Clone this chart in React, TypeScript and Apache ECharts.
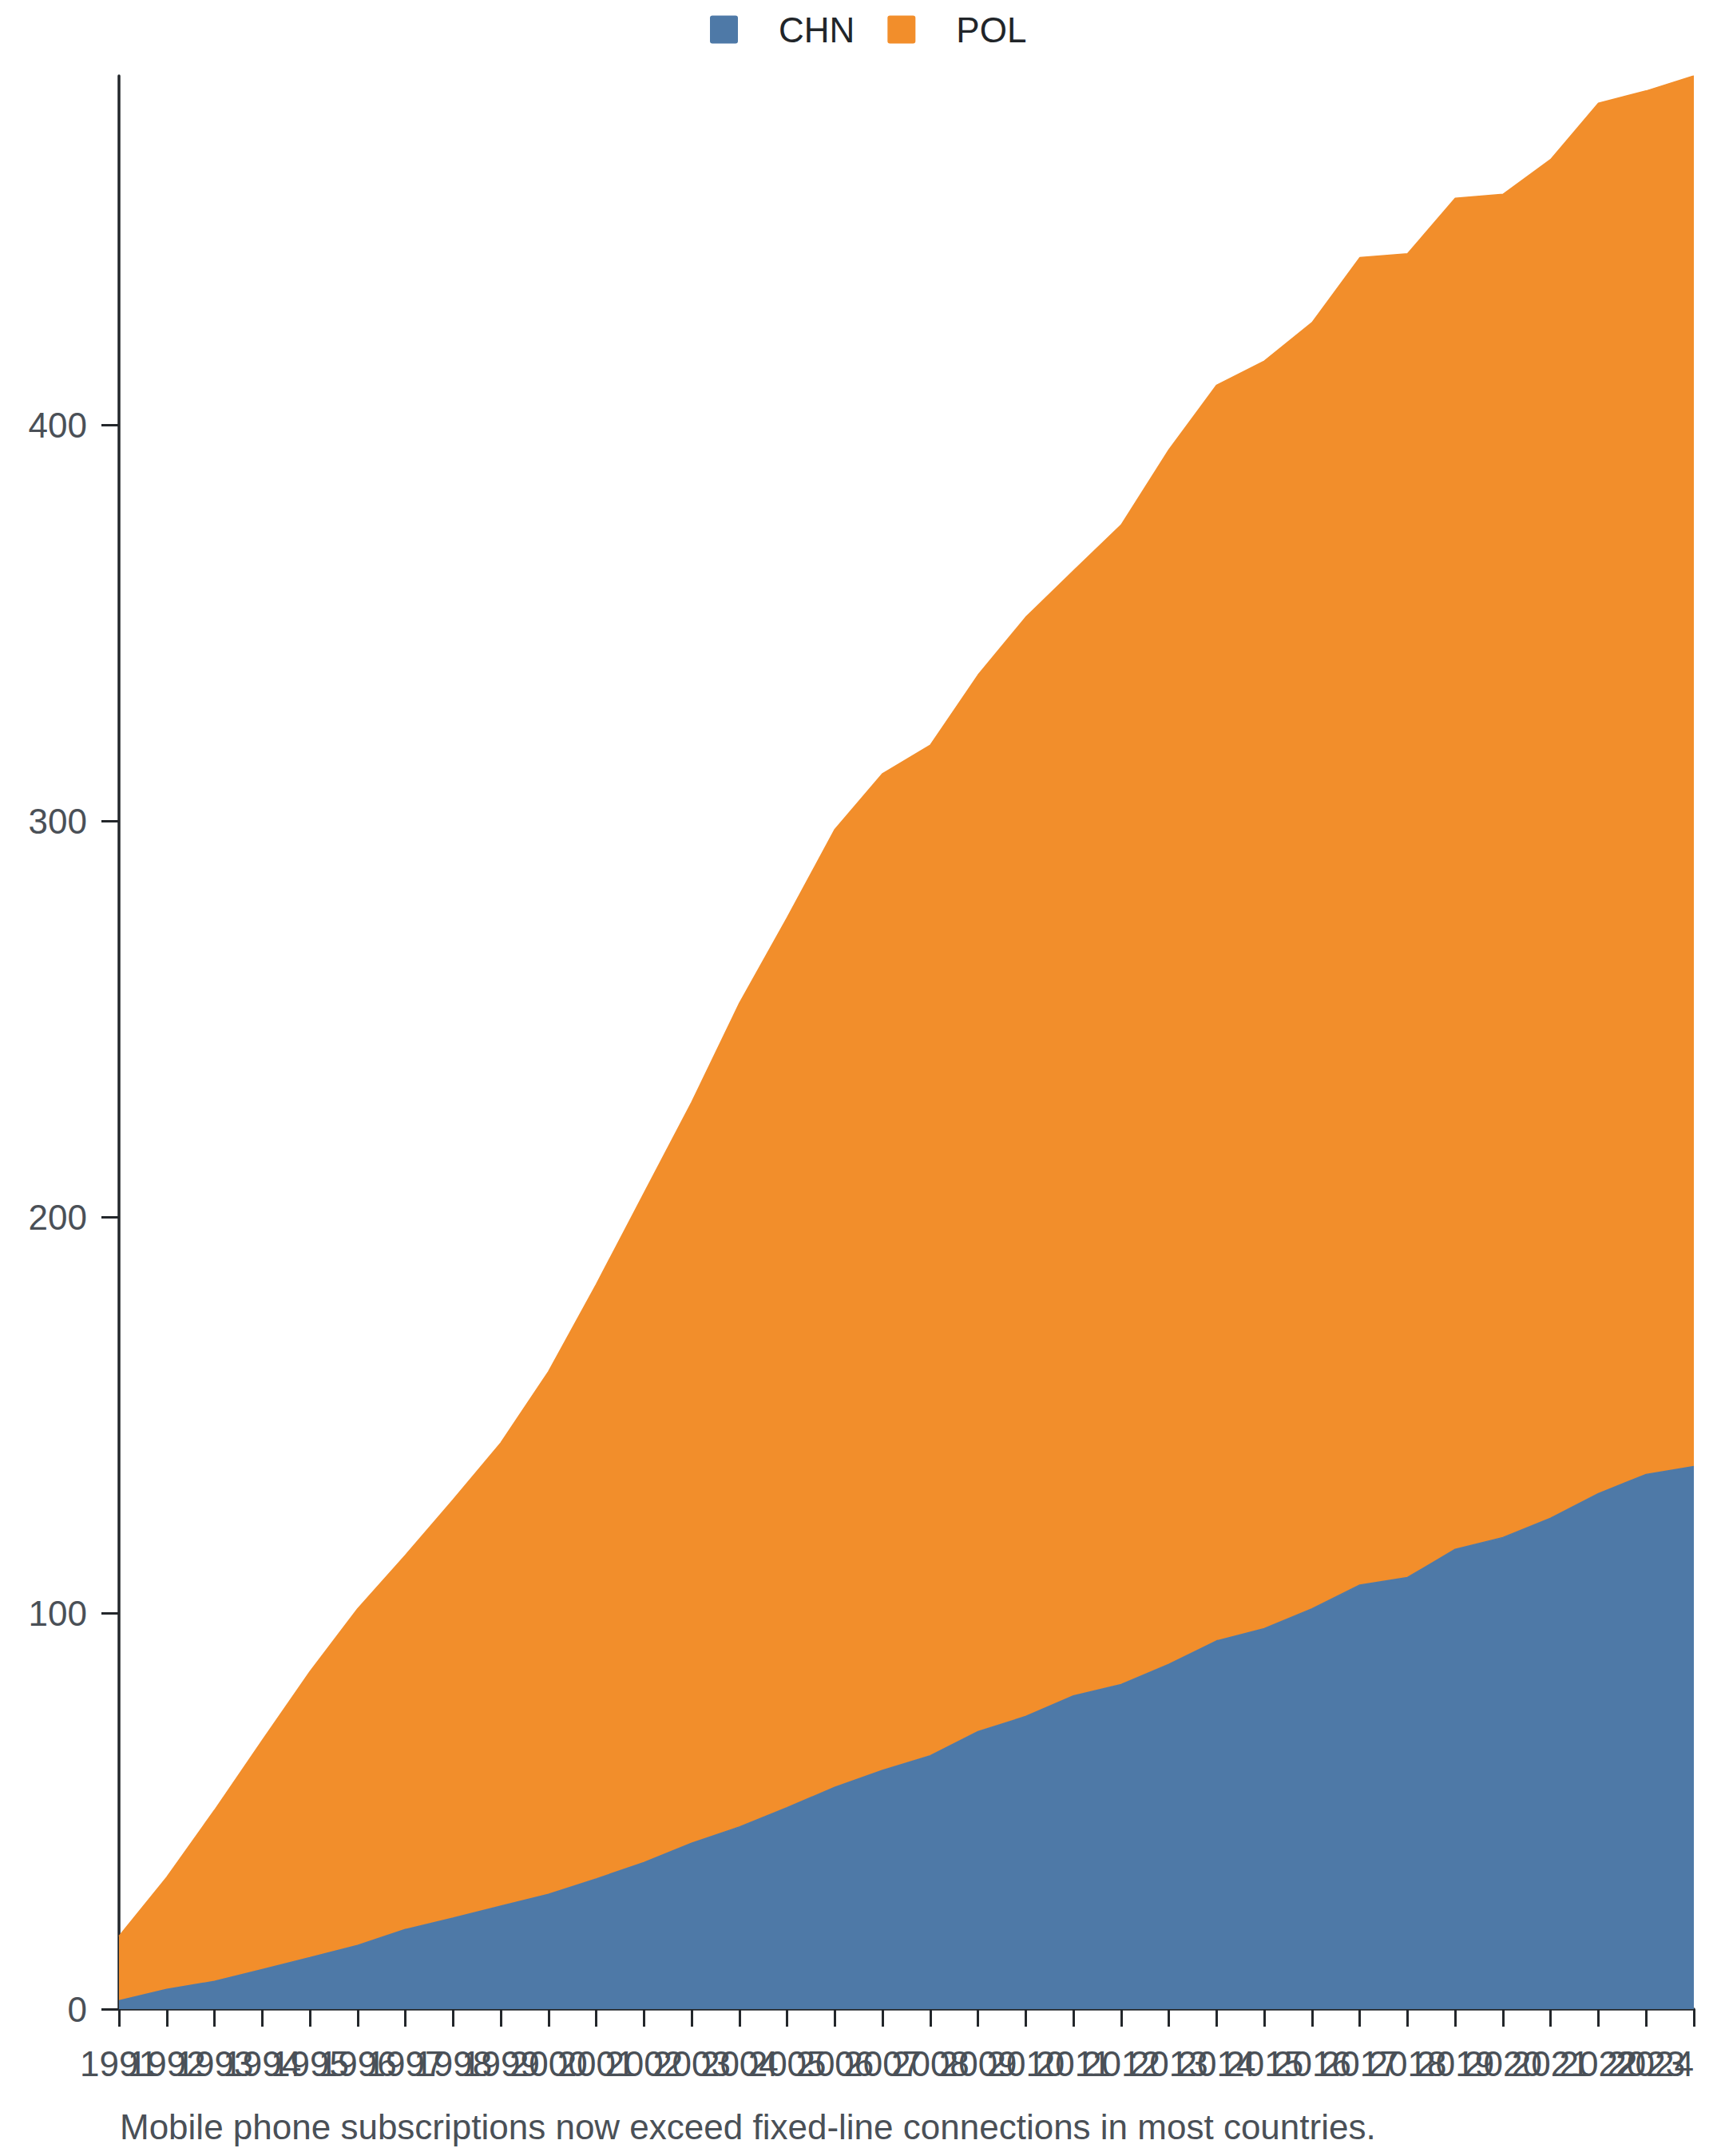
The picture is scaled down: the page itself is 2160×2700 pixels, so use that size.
import React, { useEffect, useRef } from "react";
import * as echarts from "echarts";

const years = [
  "1991", "1992", "1993", "1994", "1995", "1996", "1997", "1998", "1999", "2000",
  "2001", "2002", "2003", "2004", "2005", "2006", "2007", "2008", "2009", "2010",
  "2011", "2012", "2013", "2014", "2015", "2016", "2017", "2018", "2019", "2020",
  "2021", "2022", "2023", "2024",
];

const chn = [
  2.1, 5.0, 7.0, 10.0, 13.0, 16.1, 20.1, 23.0, 26.0, 29.0,
  32.9, 37.0, 41.9, 46.0, 50.9, 56.0, 60.3, 64.0, 70.1, 73.9,
  79.1, 82.0, 87.1, 93.0, 96.1, 101.1, 107.1, 109.0, 116.1, 119.1,
  124.0, 130.2, 135.0, 137.0,
];

const pol = [
  16.3, 28.3, 43.2, 57.8, 72.2, 85.0, 94.5, 105.6, 117.0, 132.0,
  150.1, 169.0, 187.1, 208.0, 224.7, 241.9, 251.7, 255.2, 266.8, 277.6,
  284.1, 292.8, 306.7, 317.1, 320.1, 324.8, 335.2, 334.3, 341.2, 339.2,
  343.1, 351.1, 349.4, 351.2,
];

const yTicks = [0, 100, 200, 300, 400];

const caption = "Mobile phone subscriptions now exceed fixed-line connections in most countries.";

const FONT = "'Liberation Sans', Arial, Helvetica, sans-serif";
const BLUE = "#4e79a7";
const ORANGE = "#f28e2b";
const AXIS = "#23272b";
const LABEL = "#4a5057";
const ICON = "path://M3,0 H32 Q35,0 35,3 V32 Q35,35 32,35 H3 Q0,35 0,32 V3 Q0,0 3,0 Z";

export default function App() {
  const ref = useRef<HTMLDivElement>(null);

  useEffect(() => {
    if (!ref.current) return;
    const chart = echarts.init(ref.current, null, { renderer: "svg" });
    chart.setOption({
      animation: false,
      backgroundColor: "#ffffff",
      textStyle: { fontFamily: FONT },
      legend: {
        top: 2,
        left: 876,
        itemWidth: 35,
        itemHeight: 35,
        itemGap: 41,
        icon: ICON,
        textStyle: {
          fontFamily: FONT,
          fontSize: 44,
          color: "#212529",
          padding: [0, 0, 0, 46],
        },
        data: ["CHN", "POL"],
      },
      grid: {
        left: 141,
        right: 31,
        top: 87,
        bottom: 172,
        containLabel: false,
      },
      xAxis: {
        type: "category",
        data: years,
        boundaryGap: false,
        axisLine: { show: true, lineStyle: { color: AXIS, width: 3.5 } },
        axisTick: { show: true, interval: 0, length: 22, lineStyle: { color: AXIS, width: 3 } },
        axisLabel: {
          interval: 0,
          fontFamily: FONT,
          fontSize: 44,
          lineHeight: 44,
          color: LABEL,
          margin: 46,
          alignMaxLabel: "right",
        },
        splitLine: { show: false },
      },
      yAxis: {
        type: "value",
        min: 0,
        max: "dataMax",
        axisLine: { show: true, lineStyle: { color: AXIS, width: 3.5 } },
        axisTick: {
          show: true,
          length: 22,
          lineStyle: { color: AXIS, width: 3 },
          customValues: yTicks,
        },
        axisLabel: {
          fontFamily: FONT,
          fontSize: 44,
          color: LABEL,
          margin: 40,
          customValues: yTicks,
        },
        splitLine: { show: false },
      },
      series: [
        {
          name: "CHN",
          type: "line",
          stack: "total",
          data: chn,
          symbol: "none",
          showSymbol: false,
          color: BLUE,
          lineStyle: { width: 1.5, color: BLUE },
          areaStyle: { color: BLUE, opacity: 1 },
        },
        {
          name: "POL",
          type: "line",
          stack: "total",
          data: pol,
          symbol: "none",
          showSymbol: false,
          color: ORANGE,
          lineStyle: { width: 1.5, color: ORANGE },
          areaStyle: { color: ORANGE, opacity: 1 },
        },
      ],
      graphic: [
        {
          type: "text",
          x: 142,
          y: 2655,
          style: {
            text: caption,
            font: `44px ${FONT}`,
            fill: LABEL,
            textAlign: "left",
            textVerticalAlign: "middle",
          },
        },
      ],
    });
    return () => chart.dispose();
  }, []);

  return <div ref={ref} style={{ width: 2144, height: 2680 }} />;
}
